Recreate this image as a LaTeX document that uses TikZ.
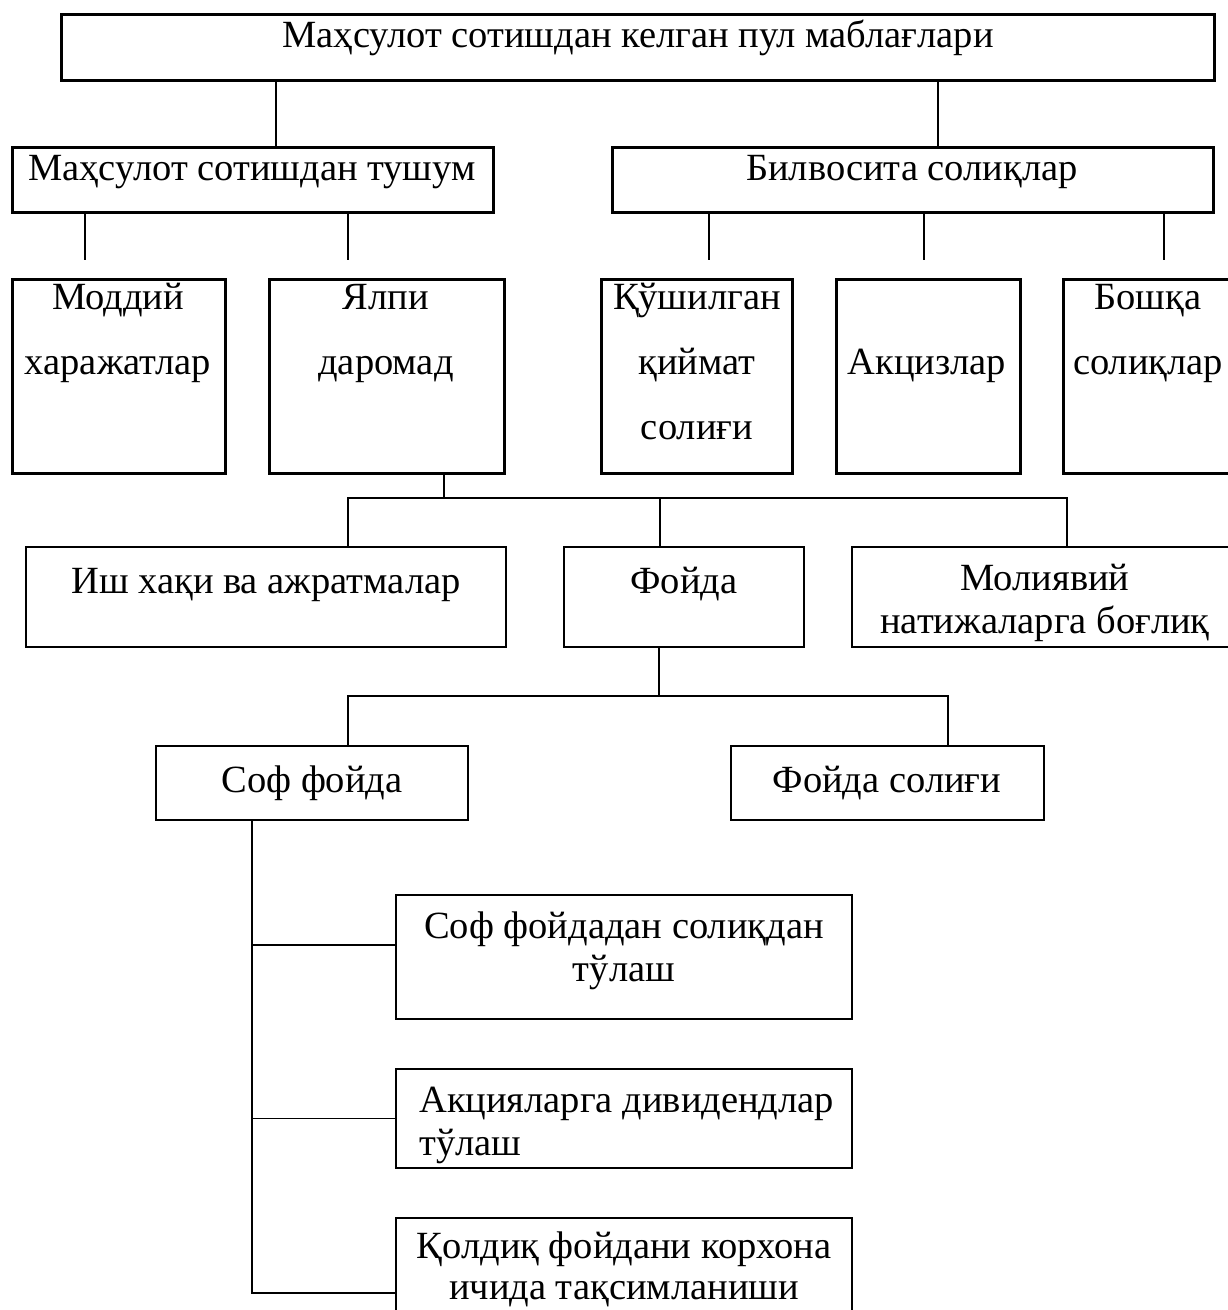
\documentclass[tikz,border=0pt]{standalone}
\usepackage{fontspec}
\setmainfont{Liberation Serif}

\begin{document}
\begin{tikzpicture}[x=1pt,y=-1pt,
  box/.style={draw,line width=3pt,inner sep=0pt},
  lowbox/.style={draw,line width=2.3pt,inner sep=0pt},
  txt/.style={inner sep=0pt,align=center,anchor=base,font=\fontsize{38.5}{43}\selectfont},
  widetxt/.style={txt,font=\fontsize{38.5}{65}\selectfont},
  link/.style={line width=1.7pt}]
\useasboundingbox (0,0) rectangle (1228,1310);
\clip (0,0) rectangle (1228,1310);

\node[box,minimum width=1153pt,minimum height=66pt] (pul) at (637.5,47) {};
\node[txt] (pul-t) at (638,47) {Маҳсулот сотишдан келган пул маблағлари};

\node[box,minimum width=481pt,minimum height=65pt] (tushum) at (252.5,179.5) {};
\node[txt] (tushum-t) at (252,180) {Маҳсулот сотишдан тушум};
\node[box,minimum width=601pt,minimum height=65pt] (bilvosita) at (912.5,179.5) {};
\node[txt] (bilvosita-t) at (912,180) {Билвосита солиқлар};

\node[box,minimum width=213pt,minimum height=194pt] (moddiy) at (118.5,376) {};
\node[widetxt] (moddiy-t) at (118,374) {Моддий\\харажатлар};
\node[box,minimum width=235pt,minimum height=194pt] (yalpi) at (386.5,376) {};
\node[widetxt] (yalpi-t) at (386,374) {Ялпи\\даромад};
\node[box,minimum width=191pt,minimum height=194pt] (qushilgan) at (696.5,376) {};
\node[widetxt] (qushilgan-t) at (697,439) {Қўшилган\\қиймат\\солиғи};
\node[box,minimum width=184pt,minimum height=194pt] (aksiz) at (928,376) {};
\node[widetxt] (aksiz-t) at (927,374) {Акцизлар};
\node[box,minimum width=170pt,minimum height=194pt] (boshqa) at (1148,376) {};
\node[widetxt] (boshqa-t) at (1148,374) {Бошқа\\солиқлар};

\node[lowbox,minimum width=480pt,minimum height=100pt] (ish) at (266,597) {};
\node[txt] (ish-t) at (266,593) {Иш хақи ва ажратмалар};
\node[lowbox,minimum width=240pt,minimum height=100pt] (foyda) at (684,597) {};
\node[txt] (foyda-t) at (684,593) {Фойда};
\node[lowbox,minimum width=386pt,minimum height=100pt] (moliya) at (1045,597) {};
\node[txt] (moliya-t) at (1045,633) {Молиявий\\натижаларга боғлиқ};

\node[lowbox,minimum width=312pt,minimum height=74pt] (sof) at (312,783) {};
\node[txt] (sof-t) at (312,792) {Соф фойда};
\node[lowbox,minimum width=313pt,minimum height=74pt] (soliq) at (887.5,783) {};
\node[txt] (soliq-t) at (887,792) {Фойда солиғи};

\node[lowbox,minimum width=456pt,minimum height=124pt] (tulash) at (624,957) {};
\node[txt] (tulash-t) at (624,981) {Соф фойдадан солиқдан\\тўлаш};
\node[lowbox,minimum width=456pt,minimum height=99pt] (divid) at (624,1118.5) {};
\node[txt,align=left,anchor=base west] (divid-t) at (419,1155) {Акцияларга дивидендлар\\тўлаш};
\node[lowbox,minimum width=456pt,minimum height=124pt] (qoldiq) at (624,1280) {};
\node[txt,font=\fontsize{38.5}{41}\selectfont] (qoldiq-t) at (624,1299) {Қолдиқ фойдани корхона\\ичида тақсимланиши};

\draw[link] (276,0 |- pul.south) -- (276,0 |- tushum.north);
\draw[link] (938,0 |- pul.south) -- (938,0 |- bilvosita.north);
\draw[link,shorten >=18pt] (85,0 |- tushum.south) -- (85,0 |- moddiy.north);
\draw[link,shorten >=18pt] (348,0 |- tushum.south) -- (348,0 |- yalpi.north);
\draw[link,shorten >=18pt] (709,0 |- bilvosita.south) -- (709,0 |- qushilgan.north);
\draw[link,shorten >=18pt] (924,0 |- bilvosita.south) -- (924,0 |- aksiz.north);
\draw[link,shorten >=18pt] (1164,0 |- bilvosita.south) -- (1164,0 |- boshqa.north);

\coordinate (bus1) at (0,498);
\draw[link] (444,0 |- yalpi.south) -- (444,0 |- bus1);
\draw[link] (348,0 |- ish.north) -- (348,0 |- bus1) -- (1067,0 |- bus1) -- (1067,0 |- moliya.north);
\draw[link] (660,0 |- bus1) -- (660,0 |- foyda.north);

\coordinate (bus2) at (0,696);
\draw[link] (659,0 |- foyda.south) -- (659,0 |- bus2);
\draw[link] (348,0 |- sof.north) -- (348,0 |- bus2) -- (948,0 |- bus2) -- (948,0 |- soliq.north);

\coordinate (trunk) at (252,0);
\draw[link] (trunk |- sof.south) |- (qoldiq.west |- 0,1293);
\draw[link] (trunk |- 0,945) -- (tulash.west |- 0,945);
\draw[link] (trunk |- divid.west) -- (divid.west);
\end{tikzpicture}
\end{document}
